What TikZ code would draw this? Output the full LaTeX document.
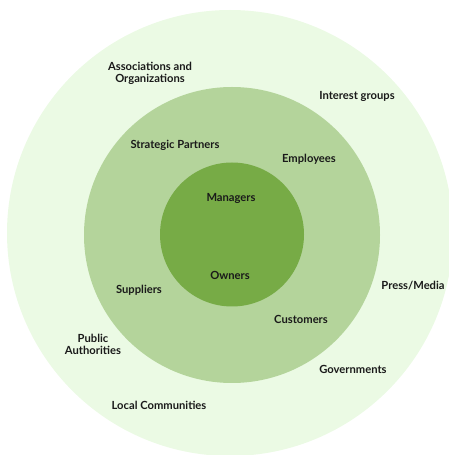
\documentclass[tikz,border=0pt]{standalone}
\usepackage{fontspec}
\setmainfont{Lato}
\definecolor{outerc}{HTML}{EBFAE4}
\definecolor{midc}{HTML}{B4D49B}
\definecolor{innerc}{HTML}{77AB46}
\definecolor{txt}{HTML}{1A1A1A}
\begin{document}
\begin{tikzpicture}[x=1pt,y=1pt,
  lbl/.style={font=\fontsize{11.2}{11.8}\selectfont\bfseries, text=txt, align=center, inner sep=0pt}]
\useasboundingbox (0,0) rectangle (449,455);
\begin{scope}
\clip (0,0) rectangle (449,455);
\fill[outerc] (230,222) circle (223);
\end{scope}
\fill[midc] (232,220) circle (148);
\fill[innerc] (232,220.5) circle (72);
\node[lbl] (assoc) at (150,382) {Associations and\\Organizations};
\node[lbl] (interest) at (357,359) {Interest groups};
\node[lbl] (strat) at (175,310) {Strategic Partners};
\node[lbl] (empl) at (309,296) {Employees};
\node[lbl] (mgr) at (231,257) {Managers};
\node[lbl] (own) at (230,180) {Owners};
\node[lbl] (supp) at (139,165) {Suppliers};
\node[lbl] (press) at (413,169) {Press/Media};
\node[lbl] (cust) at (301,136) {Customers};
\node[lbl] (pub) at (93,111) {Public\\Authorities};
\node[lbl] (gov) at (353,86) {Governments};
\node[lbl] (local) at (159,50) {Local Communities};
\end{tikzpicture}
\end{document}
